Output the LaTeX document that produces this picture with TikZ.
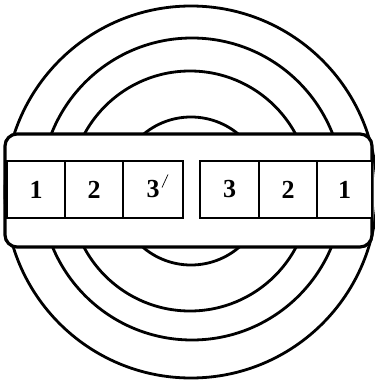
\documentclass[tikz,border=0pt]{standalone}
\usepackage{fontspec}
\setmainfont{Liberation Serif}
\begin{document}
\begin{tikzpicture}[x=1pt,y=-1pt,
  ring/.style={draw=black,line width=2.8pt},
  band/.style={draw=black,fill=white,line width=3.2pt,rounded corners=12pt},
  cell/.style={draw=black,fill=white,line width=2.6pt,minimum height=57pt,inner sep=0pt,
    font=\fontsize{26}{26}\selectfont\bfseries}]
\useasboundingbox (0,0) rectangle (374,387);
% concentric rings
\draw[ring] (191,192) circle (186);
\draw[ring] (192,189) circle (151);
\draw[ring] (190,191) circle (120);
\draw[ring] (191,191) circle (74);
% band
\draw[band] (5,134) rectangle (372,247);
% left group
\node[cell,minimum width=58pt] (L1) at (36,189.5) {1};
\node[cell,minimum width=58pt] (L2) at (94,189.5) {2};
\node[cell,minimum width=60pt] (L3) at (153,189.5) {3};
% right group
\node[cell,minimum width=59pt] (R3) at (229.5,189.5) {3};
\node[cell,minimum width=58pt] (R2) at (288,189.5) {2};
\node[cell,minimum width=55pt] (R1) at (344.5,189.5) {1};
% small mark beside left 3
\draw[line width=0.7pt] ([xshift=9pt,yshift=2pt]L3.center) -- ([xshift=15pt,yshift=15pt]L3.center);
\end{tikzpicture}
\end{document}
